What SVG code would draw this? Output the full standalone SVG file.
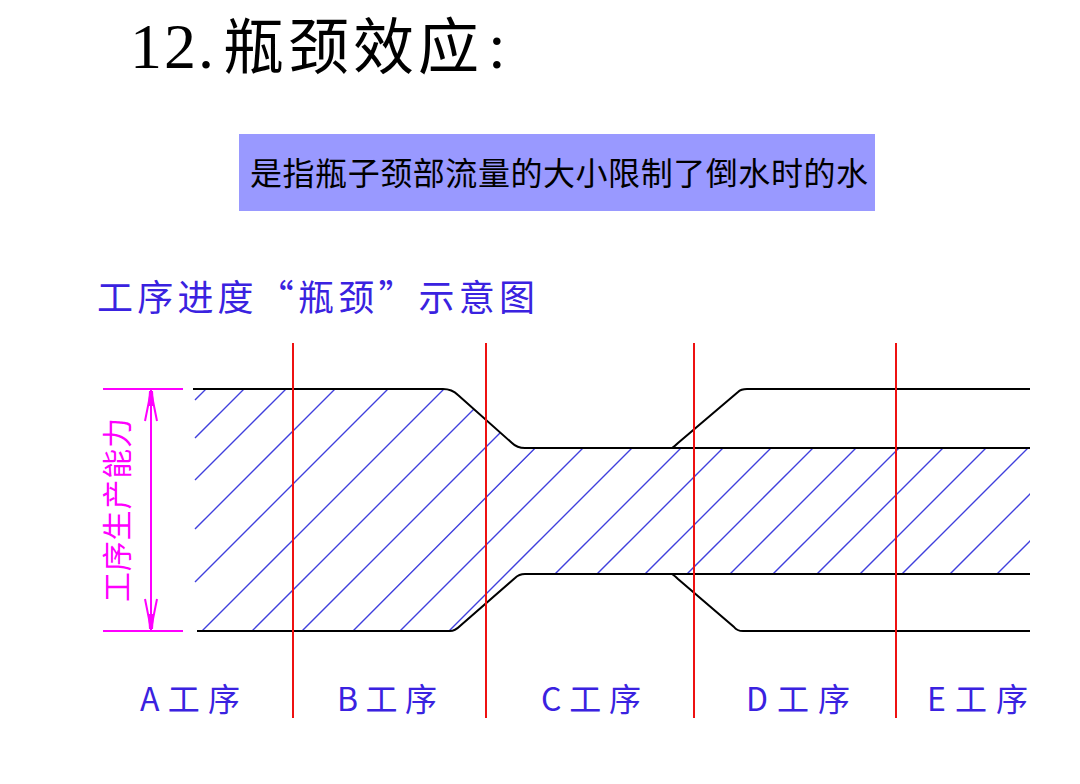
<svg xmlns="http://www.w3.org/2000/svg" width="1080" height="784" viewBox="0 0 1080 784">
<style>
.cjk{font-family:"Noto Sans CJK SC","Noto Sans",sans-serif}
.lbl{font-family:"Noto Sans CJK SC","Noto Sans",sans-serif;font-size:32px;fill:#3a22e0}
.red{stroke:#ee1111;stroke-width:2;fill:none}
.out{stroke:#000;stroke-width:2;fill:none}
.hatch{stroke:#4040dd;stroke-width:1.4;fill:none}
.mag{stroke:#ff00ff;stroke-width:2;fill:none}
</style>
<defs>
<clipPath id="clipH">
<path d="M193,389 L443,389 Q452,389 458,395 L512,443 Q517,448 525,448 L1030,448 L1030,574 L525,574 Q519,574 515,578 L460,626 Q455,631 450,631 L193,631 Z"/>
</clipPath>
</defs>
<rect width="1080" height="784" fill="#fff"/>
<g id="title">
<text x="130" y="68" font-family="Liberation Serif,serif" font-size="64" textLength="84" lengthAdjust="spacing">12.</text>
<text x="223" y="69" class="cjk" font-size="61" letter-spacing="4">瓶颈效应</text>
<text x="497" y="68" font-family="Liberation Serif,serif" font-size="64" text-anchor="middle">:</text>
</g>
<g id="definition">
<rect x="239" y="134" width="636" height="77" fill="#9999ff"/>
<text x="250" y="185" class="cjk" font-size="32" textLength="618" lengthAdjust="spacing">是指瓶子颈部流量的大小限制了倒水时的水</text>
</g>
<g id="subtitle">
<text x="97" y="311" class="lbl" textLength="438" lengthAdjust="spacing" style="font-size:36px">工序进度“瓶颈”示意图</text>
</g>
<g id="hatching" clip-path="url(#clipH)">
<path class="hatch" d="M195,400 L206,389 M195,438 L244,389 M195,480 L286,389 M195,529 L335,389 M195,582 L388,389 M202,631 L444,389 M252,631 L494,389 M302,631 L544,389 M353,631 L594,389 M400,631 L642,389 M449,631 L691,389 M555,574 L740,389 M597,574 L782,389 M645,574 L830,389 M687,574 L872,389 M730,574 L915,389 M773,574 L958,389 M817,574 L1002,389 M860,574 L1045,389 M902,574 L1087,389 M950,574 L1135,389 M997,574 L1182,389"/>
</g>
<g id="outline">
<path class="out" d="M193,389 L443,389 Q452,389 458,395 L512,443 Q517,448 525,448 L1030,448"/>
<path class="out" d="M197,631 L450,631 Q455,631 460,626 L515,578 Q519,574 525,574 L1030,574"/>
<path class="out" d="M672,448 Q675,446 678,443 L738,392 Q741,389 747,389 L1030,389"/>
<path class="out" d="M672,574 Q675,576 678,579 L734,627 Q737,631 743,631 L1030,631"/>
</g>
<g id="stages">
<line class="red" x1="293" y1="343" x2="293" y2="718"/>
<line class="red" x1="486" y1="343" x2="486" y2="718"/>
<line class="red" x1="694" y1="343" x2="694" y2="718"/>
<line class="red" x1="896" y1="343" x2="896" y2="718"/>
</g>
<g id="dimension">
<line class="mag" x1="103" y1="389" x2="183" y2="389"/>
<line class="mag" x1="103" y1="631" x2="183" y2="631"/>
<line class="mag" x1="151" y1="389" x2="151" y2="631"/>
<path class="mag" stroke-width="1.5" d="M151,391 L145,421 M151,391 L157,421 M151,629 L145,599 M151,629 L157,599"/>
<path d="M149,391 L153,391 L154,406 L148,406 Z M149,629 L153,629 L154,614 L148,614 Z" fill="#ff00ff"/>
<text transform="translate(128,510) rotate(-90)" text-anchor="middle" class="cjk" font-size="30" fill="#ff00ff" textLength="184" lengthAdjust="spacing">工序生产能力</text>
</g>
<g id="labels">
<text x="140" y="711" class="lbl" textLength="100" lengthAdjust="spacing">A工序</text>
<text x="337" y="711" class="lbl" textLength="100" lengthAdjust="spacing">B工序</text>
<text x="541" y="711" class="lbl" textLength="100" lengthAdjust="spacing">C工序</text>
<text x="746" y="711" class="lbl" textLength="104" lengthAdjust="spacing">D工序</text>
<text x="927" y="711" class="lbl" textLength="101" lengthAdjust="spacing">E工序</text>
</g>
</svg>
